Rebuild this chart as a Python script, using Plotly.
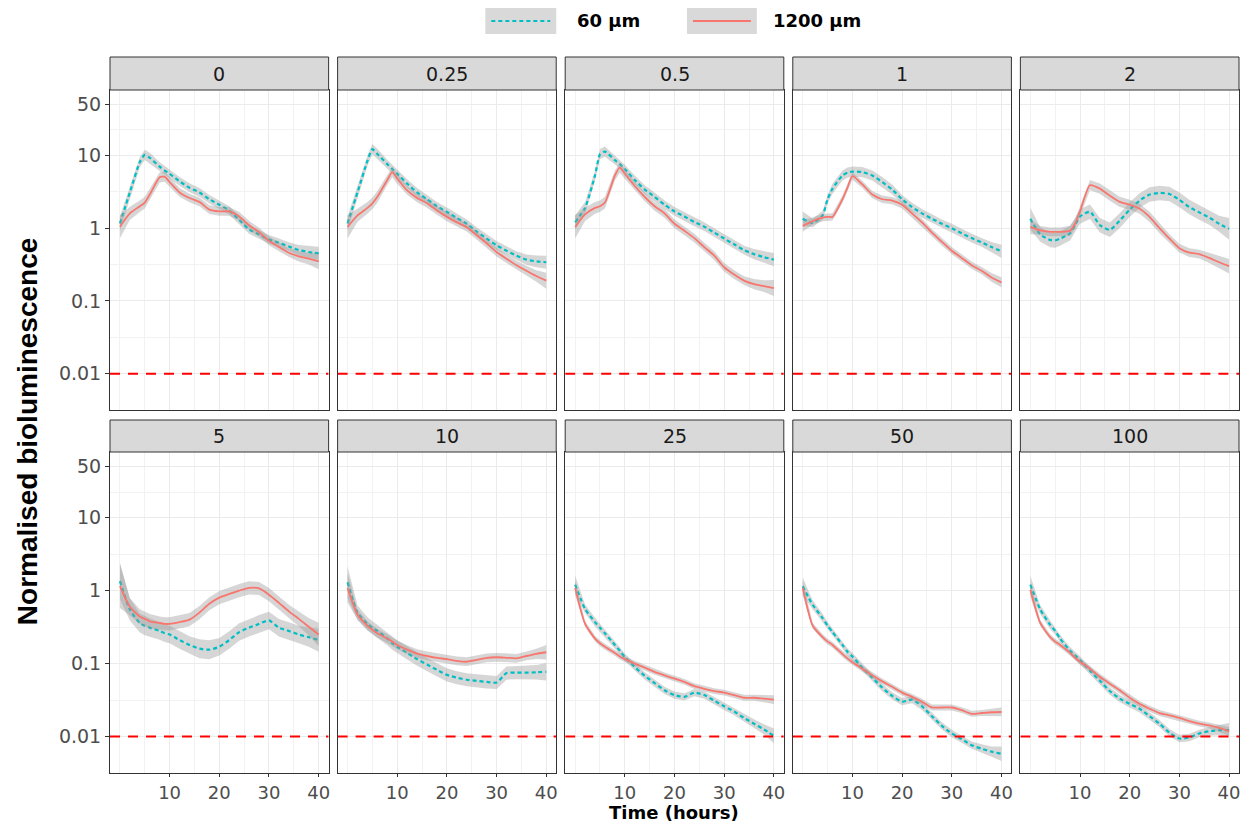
import plotly.graph_objects as go

# ---------------- data ----------------
TIME = [0, 2, 4, 5, 6, 8, 9, 10, 12, 14, 16, 18, 20, 22, 24, 26, 28, 30, 32, 34, 36, 38, 40]
PANELS = ["0", "0.25", "0.5", "1", "2", "5", "10", "25", "50", "100"]
SERIES = ["60 µm", "1200 µm"]
THRESHOLD = 0.01
X_TICKS = [10, 20, 30, 40]
X_MINOR = [0, 5, 15, 25, 35]
Y_TICKS = [0.01, 0.1, 1, 10, 50]
Y_TICKTEXT = ["0.01", "0.1", "1", "10", "50"]
Y_MINOR = [0.00316, 0.0316, 0.316, 3.16, 22.4]

# normalised bioluminescence, 60 µm (cyan) and 1200 µm (red), per panel
l60_p0 = [1.16, 3.1, 8.1, 10.2, 9.3, 7.0, 6.2, 5.6, 4.4, 3.6, 3.1, 2.5, 2.1, 1.75, 1.3, 0.96, 0.82, 0.70, 0.63, 0.56, 0.50, 0.47, 0.45]
l1200_p0 = [1.05, 1.6, 2.0, 2.25, 2.9, 5.0, 5.1, 4.3, 3.1, 2.6, 2.3, 1.8, 1.7, 1.7, 1.45, 1.1, 0.88, 0.67, 0.55, 0.46, 0.41, 0.38, 0.35]
l60_p025 = [1.16, 3.1, 8.4, 12.2, 10.5, 7.6, 6.5, 5.6, 4.1, 3.1, 2.5, 2.0, 1.67, 1.38, 1.15, 0.9, 0.72, 0.58, 0.49, 0.42, 0.37, 0.35, 0.34]
l1200_p025 = [1.04, 1.5, 1.9, 2.2, 2.7, 4.6, 5.9, 4.8, 3.3, 2.6, 2.2, 1.75, 1.43, 1.2, 1.03, 0.8, 0.62, 0.47, 0.38, 0.31, 0.26, 0.22, 0.19]
l60_p05 = [1.2, 1.9, 5.3, 10.4, 11.3, 8.6, 7.6, 6.5, 4.6, 3.4, 2.7, 2.1, 1.7, 1.45, 1.22, 1.05, 0.87, 0.72, 0.60, 0.50, 0.44, 0.40, 0.37]
l1200_p05 = [1.04, 1.55, 1.9, 2.0, 2.25, 5.3, 6.8, 5.6, 3.8, 2.7, 2.0, 1.6, 1.15, 0.92, 0.73, 0.55, 0.42, 0.29, 0.23, 0.19, 0.17, 0.16, 0.15]
l60_p1 = [1.35, 1.18, 1.5, 2.5, 3.5, 5.3, 5.8, 6.0, 5.9, 5.3, 4.3, 3.4, 2.5, 1.95, 1.6, 1.35, 1.15, 1.0, 0.85, 0.73, 0.64, 0.55, 0.48]
l1200_p1 = [1.07, 1.25, 1.4, 1.43, 1.43, 2.5, 3.6, 5.2, 4.0, 2.9, 2.5, 2.4, 2.1, 1.6, 1.2, 0.87, 0.65, 0.49, 0.39, 0.31, 0.26, 0.21, 0.18]
l60_p2 = [1.35, 0.82, 0.69, 0.68, 0.72, 0.85, 1.1, 1.45, 1.68, 1.1, 0.95, 1.27, 1.8, 2.4, 2.9, 3.05, 2.95, 2.45, 1.95, 1.65, 1.4, 1.15, 0.98]
l1200_p2 = [1.04, 0.93, 0.89, 0.89, 0.89, 0.92, 1.15, 1.7, 3.9, 3.5, 2.8, 2.3, 2.1, 1.85, 1.43, 1.0, 0.72, 0.53, 0.46, 0.44, 0.39, 0.34, 0.30]
l60_p5 = [1.35, 0.55, 0.36, 0.33, 0.31, 0.28, 0.26, 0.25, 0.21, 0.18, 0.16, 0.155, 0.17, 0.21, 0.27, 0.31, 0.35, 0.39, 0.31, 0.28, 0.25, 0.23, 0.21]
l1200_p5 = [1.15, 0.6, 0.44, 0.41, 0.38, 0.36, 0.35, 0.35, 0.37, 0.40, 0.5, 0.66, 0.8, 0.9, 1.0, 1.09, 1.07, 0.88, 0.68, 0.52, 0.41, 0.32, 0.25]
l60_p10 = [1.3, 0.5, 0.35, 0.31, 0.28, 0.22, 0.19, 0.17, 0.14, 0.115, 0.097, 0.082, 0.07, 0.064, 0.06, 0.058, 0.056, 0.055, 0.074, 0.075, 0.075, 0.076, 0.077]
l1200_p10 = [1.09, 0.47, 0.33, 0.29, 0.26, 0.22, 0.2, 0.18, 0.155, 0.137, 0.127, 0.12, 0.115, 0.109, 0.106, 0.112, 0.12, 0.122, 0.12, 0.118, 0.127, 0.136, 0.143]
l60_p25 = [1.21, 0.56, 0.37, 0.31, 0.26, 0.18, 0.15, 0.122, 0.09, 0.068, 0.054, 0.043, 0.037, 0.035, 0.04, 0.037, 0.031, 0.026, 0.022, 0.018, 0.015, 0.0125, 0.0102]
l1200_p25 = [1.09, 0.35, 0.22, 0.19, 0.17, 0.14, 0.125, 0.115, 0.1, 0.088, 0.077, 0.069, 0.062, 0.056, 0.049, 0.045, 0.042, 0.04, 0.037, 0.034, 0.034, 0.033, 0.032]
l60_p50 = [1.15, 0.64, 0.42, 0.33, 0.27, 0.18, 0.145, 0.125, 0.088, 0.064, 0.047, 0.036, 0.03, 0.032, 0.026, 0.019, 0.014, 0.011, 0.0092, 0.0076, 0.0068, 0.0062, 0.0058]
l1200_p50 = [1.09, 0.33, 0.23, 0.2, 0.18, 0.135, 0.118, 0.104, 0.085, 0.069, 0.057, 0.048, 0.04, 0.035, 0.03, 0.025, 0.025, 0.025, 0.023, 0.0205, 0.021, 0.0215, 0.0217]
l60_p100 = [1.21, 0.55, 0.34, 0.28, 0.22, 0.15, 0.13, 0.112, 0.08, 0.058, 0.042, 0.033, 0.028, 0.024, 0.019, 0.015, 0.0113, 0.0094, 0.0097, 0.011, 0.0118, 0.0122, 0.0122]
l1200_p100 = [1.03, 0.36, 0.23, 0.2, 0.18, 0.14, 0.12, 0.106, 0.085, 0.066, 0.053, 0.043, 0.034, 0.028, 0.024, 0.021, 0.0195, 0.018, 0.0163, 0.015, 0.0142, 0.0131, 0.0118]

# confidence band half-widths (log10 units), read from the grey ribbons
se_top60 = [0.10, 0.08, 0.07, 0.07, 0.07, 0.06, 0.06, 0.06, 0.06, 0.06, 0.06, 0.06, 0.06, 0.06, 0.06, 0.06, 0.06, 0.06, 0.06, 0.06, 0.07, 0.08, 0.09]
se_top1200 = [0.16, 0.09, 0.08, 0.08, 0.08, 0.07, 0.07, 0.07, 0.06, 0.06, 0.06, 0.06, 0.06, 0.06, 0.06, 0.06, 0.06, 0.06, 0.06, 0.06, 0.07, 0.08, 0.11]
se_p1_60 = [0.10, 0.06, 0.06, 0.06, 0.07, 0.07, 0.07, 0.07, 0.07, 0.07, 0.07, 0.07, 0.06, 0.06, 0.06, 0.06, 0.06, 0.06, 0.06, 0.06, 0.06, 0.07, 0.09]
se_p1_1200 = [0.08, 0.05, 0.05, 0.05, 0.05, 0.05, 0.05, 0.05, 0.05, 0.05, 0.05, 0.05, 0.05, 0.05, 0.05, 0.05, 0.05, 0.05, 0.05, 0.05, 0.05, 0.06, 0.07]
se_p2_60 = [0.15, 0.10, 0.10, 0.10, 0.10, 0.10, 0.10, 0.10, 0.10, 0.10, 0.10, 0.10, 0.10, 0.10, 0.10, 0.10, 0.10, 0.10, 0.10, 0.10, 0.10, 0.11, 0.15]
se_p2_1200 = [0.10, 0.06, 0.06, 0.06, 0.06, 0.07, 0.07, 0.07, 0.07, 0.07, 0.07, 0.07, 0.07, 0.07, 0.07, 0.07, 0.06, 0.06, 0.06, 0.06, 0.07, 0.08, 0.10]
se_p5_60 = [0.25, 0.15, 0.13, 0.13, 0.13, 0.12, 0.12, 0.12, 0.12, 0.12, 0.13, 0.13, 0.12, 0.12, 0.12, 0.12, 0.12, 0.12, 0.12, 0.12, 0.12, 0.13, 0.16]
se_p5_1200 = [0.30, 0.12, 0.10, 0.10, 0.10, 0.09, 0.09, 0.09, 0.09, 0.09, 0.09, 0.09, 0.09, 0.09, 0.09, 0.09, 0.09, 0.09, 0.09, 0.09, 0.10, 0.12, 0.16]
se_p10_60 = [0.22, 0.10, 0.09, 0.09, 0.09, 0.09, 0.09, 0.09, 0.09, 0.09, 0.09, 0.09, 0.09, 0.09, 0.09, 0.09, 0.09, 0.09, 0.09, 0.09, 0.09, 0.10, 0.12]
se_p10_1200 = [0.20, 0.07, 0.06, 0.06, 0.06, 0.06, 0.06, 0.06, 0.06, 0.06, 0.06, 0.06, 0.06, 0.06, 0.06, 0.06, 0.06, 0.06, 0.06, 0.06, 0.06, 0.07, 0.10]
se_low60 = [0.12, 0.06, 0.06, 0.05, 0.05, 0.05, 0.05, 0.05, 0.05, 0.05, 0.05, 0.05, 0.05, 0.05, 0.05, 0.05, 0.05, 0.05, 0.05, 0.05, 0.06, 0.07, 0.10]
se_low1200 = [0.10, 0.04, 0.04, 0.04, 0.04, 0.04, 0.04, 0.04, 0.04, 0.04, 0.04, 0.04, 0.04, 0.04, 0.04, 0.04, 0.04, 0.04, 0.04, 0.04, 0.04, 0.05, 0.06]

LUM60 = [l60_p0, l60_p025, l60_p05, l60_p1, l60_p2, l60_p5, l60_p10, l60_p25, l60_p50, l60_p100]
LUM1200 = [l1200_p0, l1200_p025, l1200_p05, l1200_p1, l1200_p2, l1200_p5, l1200_p10, l1200_p25, l1200_p50, l1200_p100]
SE60 = [se_top60, se_top60, se_top60, se_p1_60, se_p2_60, se_p5_60, se_p10_60, se_low60, se_low60, se_low60]
SE1200 = [se_top1200, se_top1200, se_top1200, se_p1_1200, se_p2_1200, se_p5_1200, se_p10_1200, se_low1200, se_low1200, se_low1200]

# ---------------- layout geometry (pixels of a 1248x825 page) ----------------
W, H = 1248, 825
ML, MR, MT, MB = 110, 7, 56, 52
PW, PH = W - ML - MR, H - MT - MB


def px_x(p):
    return (p - ML) / PW


def px_y(p):
    return (H - MB - p) / PH


COL_PX = [(110 + i * 228, 110 + i * 228 + 219) for i in range(5)]
ROW_PX = [(90, 410), (452, 773)]
STRIP_PX = [(57, 90), (420, 452)]

CYAN = "#00BFC4"
SALMON = "#F8766D"
RIBBON = "rgba(153,153,153,0.4)"
Y_TICK_FONT = dict(family="DejaVu Sans", size=19, color="#4D4D4D")
X_TICK_FONT = dict(family="DejaVu Sans", size=18, color="#4D4D4D")

fig = go.Figure()
layout = dict(
    width=W, height=H,
    margin=dict(l=ML, r=MR, t=MT, b=MB),
    paper_bgcolor="white", plot_bgcolor="white",
    showlegend=False,
)

shapes = []
annotations = []

for i, name in enumerate(PANELS):
    r, c = divmod(i, 5)
    k = i + 1
    xs = "" if k == 1 else str(k)
    xa, ya = "x" + xs, "y" + xs

    for vals, se, color, dash, lw in (
        (LUM60[i], SE60[i], CYAN, "4px,3px", 2.2),
        (LUM1200[i], SE1200[i], SALMON, "solid", 1.8),
    ):
        upper = [v * 10 ** s for v, s in zip(vals, se)]
        lower = [v / 10 ** s for v, s in zip(vals, se)]
        fig.add_trace(go.Scatter(
            x=TIME + TIME[::-1], y=upper + lower[::-1],
            fill="toself", fillcolor=RIBBON, line=dict(width=0),
            mode="lines", hoverinfo="skip", xaxis=xa, yaxis=ya,
        ))
        fig.add_trace(go.Scatter(
            x=TIME, y=vals, mode="lines",
            line=dict(color=color, width=lw, dash=dash, shape="spline", smoothing=0.6),
            xaxis=xa, yaxis=ya,
        ))
    fig.add_trace(go.Scatter(
        x=[-2, 42], y=[THRESHOLD, THRESHOLD], mode="lines",
        line=dict(color="#FF0000", width=2, dash="10px,8px"),
        xaxis=xa, yaxis=ya, hoverinfo="skip",
    ))

    x0p, x1p = COL_PX[c]
    y0p, y1p = ROW_PX[r]
    layout["xaxis" + xs] = dict(
        domain=[px_x(x0p), px_x(x1p)], anchor=ya, range=[-2, 42],
        tickmode="array", tickvals=X_TICKS, ticktext=[str(v) for v in X_TICKS],
        showticklabels=(r == 1), ticks="outside" if r == 1 else "",
        ticklen=3, tickcolor="#333333", tickfont=X_TICK_FONT,
        showgrid=True, gridcolor="#EBEBEB", gridwidth=1.1,
        minor=dict(tickvals=X_MINOR, showgrid=True, gridcolor="#F2F2F2", gridwidth=0.7, ticks=""),
        zeroline=False, showline=True, mirror=True, linecolor="#333333", linewidth=1,
    )
    layout["yaxis" + xs] = dict(
        domain=[px_y(y1p), px_y(y0p)], anchor=xa, type="log", range=[-2.5, 1.9],
        tickmode="array", tickvals=Y_TICKS, ticktext=Y_TICKTEXT,
        showticklabels=(c == 0), ticks="outside" if c == 0 else "",
        ticklen=4, tickcolor="#333333", tickfont=Y_TICK_FONT,
        showgrid=True, gridcolor="#EBEBEB", gridwidth=1.1,
        minor=dict(tickvals=Y_MINOR, showgrid=True, gridcolor="#F2F2F2", gridwidth=0.7, ticks=""),
        zeroline=False, showline=True, mirror=True, linecolor="#333333", linewidth=1,
    )

    s0, s1 = STRIP_PX[r]
    shapes.append(dict(
        type="rect", xref="paper", yref="paper",
        x0=px_x(x0p), x1=px_x(x1p), y0=px_y(s1), y1=px_y(s0),
        fillcolor="#D9D9D9", line=dict(color="#333333", width=1), layer="above",
    ))
    annotations.append(dict(
        text=name, xref="paper", yref="paper",
        x=px_x((x0p + x1p) / 2), y=px_y((s0 + s1) / 2),
        showarrow=False, xanchor="center", yanchor="middle",
        font=dict(family="DejaVu Sans", size=19, color="#1A1A1A"),
    ))

# manual legend (grey key boxes as in ggplot)
LEG_Y = 21
for (kx0, kx1, tx), label, color, dash, lw in (
    ((486, 557, 576), SERIES[0], CYAN, "4px,3px", 2.2),
    ((688, 758, 772), SERIES[1], SALMON, "solid", 2.0),
):
    shapes.append(dict(
        type="rect", xref="paper", yref="paper",
        x0=px_x(kx0), x1=px_x(kx1), y0=px_y(34), y1=px_y(8),
        fillcolor="#D9D9D9", line=dict(width=0),
    ))
    shapes.append(dict(
        type="line", xref="paper", yref="paper",
        x0=px_x(kx0 + 6), x1=px_x(kx1 - 6), y0=px_y(LEG_Y), y1=px_y(LEG_Y),
        line=dict(color=color, width=lw, dash=dash),
    ))
    annotations.append(dict(
        text="<b>%s</b>" % label, xref="paper", yref="paper",
        x=px_x(tx), y=px_y(LEG_Y), xanchor="left", yanchor="middle", showarrow=False,
        font=dict(family="DejaVu Sans", size=18, color="#000000"),
    ))

annotations.append(dict(
    text="<b>Time (hours)</b>", xref="paper", yref="paper",
    x=px_x(675), y=px_y(812), xanchor="center", yanchor="middle", showarrow=False,
    font=dict(family="DejaVu Sans", size=18, color="#000000"),
))
annotations.append(dict(
    text="<b>Normalised bioluminescence</b>", xref="paper", yref="paper",
    x=px_x(27), y=px_y(432), xanchor="center", yanchor="middle", showarrow=False,
    textangle=-90,
    font=dict(family="Liberation Sans", size=28, color="#000000"),
))

layout["shapes"] = shapes
layout["annotations"] = annotations
fig.update_layout(**layout)
fig.write_html("out.html")
